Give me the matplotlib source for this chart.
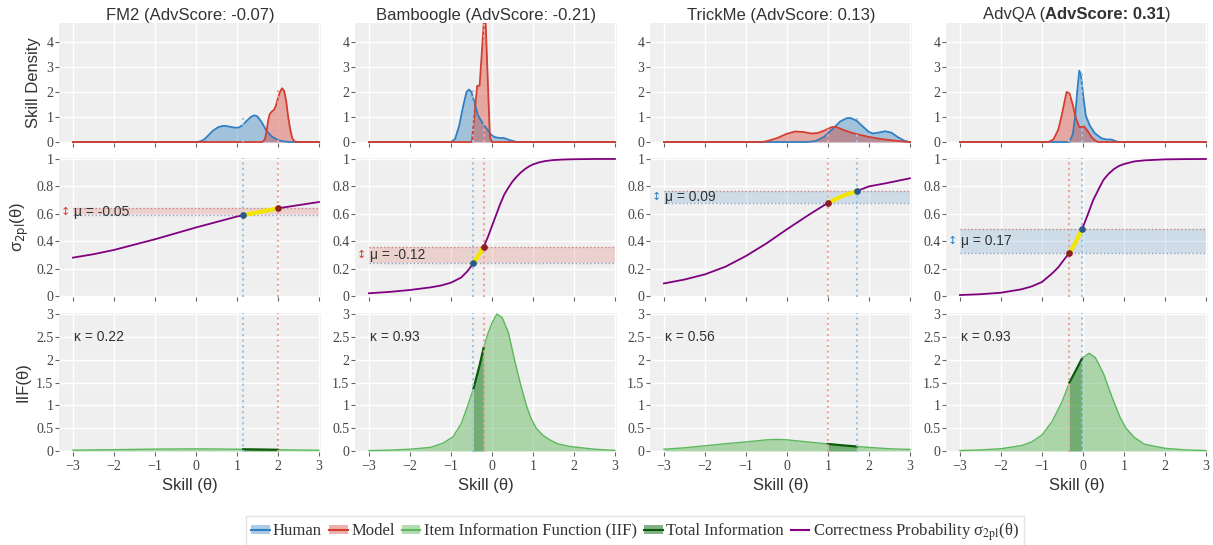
import numpy as np
import matplotlib
matplotlib.use("Agg")
import matplotlib.pyplot as plt
from matplotlib.patches import Patch
from matplotlib.lines import Line2D
from matplotlib.offsetbox import TextArea, HPacker, AnchoredOffsetbox
from matplotlib.ticker import FuncFormatter
from matplotlib.font_manager import FontProperties

# ---------------- data ----------------
datasets = ["FM2", "Bamboogle", "TrickMe", "AdvQA"]
adv_scores = [-0.07, -0.21, 0.13, 0.31]
mu_values = [-0.05, -0.12, 0.09, 0.17]
kappa_values = [0.22, 0.93, 0.56, 0.93]
human_means = [1.15, -0.45, 1.7, -0.02]
model_means = [2.0, -0.2, 1.0, -0.33]
human_probs = [0.589, 0.24, 0.765, 0.489]
model_probs = [0.64, 0.36, 0.68, 0.314]

# skill densities (theta, density)
fm2_human_theta = [-3, 0.0, 0.1, 0.2, 0.3, 0.42, 0.55, 0.68, 0.8, 0.92, 1.03, 1.13, 1.23, 1.33, 1.42, 1.5, 1.6, 1.72, 1.85, 2.0, 2.15, 2.3, 3]
fm2_human_dens = [0, 0, 0.02, 0.1, 0.26, 0.46, 0.6, 0.65, 0.62, 0.58, 0.57, 0.66, 0.83, 0.99, 1.07, 1.02, 0.8, 0.45, 0.22, 0.08, 0.02, 0, 0]
fm2_model_theta = [-3, 1.62, 1.68, 1.72, 1.76, 1.8, 1.85, 1.9, 1.95, 2.0, 2.05, 2.1, 2.15, 2.2, 2.25, 2.3, 2.35, 2.4, 2.45, 3]
fm2_model_dens = [0, 0, 0.1, 0.4, 0.85, 1.12, 1.22, 1.28, 1.45, 1.75, 2.0, 2.15, 2.05, 1.65, 1.0, 0.5, 0.15, 0.03, 0, 0]

bam_human_theta = [-3, -1.0, -0.9, -0.8, -0.7, -0.62, -0.56, -0.5, -0.42, -0.34, -0.22, -0.1, -0.02, 0.06, 0.18, 0.29, 0.41, 0.53, 0.62, 3]
bam_human_dens = [0, 0, 0.12, 0.65, 1.45, 2.0, 2.1, 2.0, 1.53, 1.07, 0.73, 0.47, 0.29, 0.2, 0.16, 0.16, 0.09, 0.03, 0, 0]
bam_model_theta = [-3, -0.49, -0.36, -0.3, -0.17, -0.05, 0.0, 3]
bam_model_dens = [0, 0, 2.25, 2.25, 5.5, 0.2, 0, 0]

tri_human_theta = [-3, 0.5, 0.7, 0.9, 1.1, 1.3, 1.45, 1.55, 1.7, 1.85, 2.0, 2.1, 2.25, 2.4, 2.55, 2.7, 2.85, 2.95, 3]
tri_human_dens = [0, 0, 0.04, 0.2, 0.5, 0.82, 0.95, 0.96, 0.85, 0.62, 0.4, 0.34, 0.38, 0.43, 0.37, 0.2, 0.06, 0.01, 0]
tri_model_theta = [-3, -0.6, -0.5, -0.25, 0.0, 0.2, 0.4, 0.6, 0.75, 0.9, 1.1, 1.2, 1.4, 1.6, 1.8, 2.0, 2.3, 2.6, 2.9, 3]
tri_model_dens = [0, 0, 0.03, 0.15, 0.33, 0.42, 0.4, 0.34, 0.36, 0.45, 0.6, 0.6, 0.47, 0.36, 0.28, 0.2, 0.12, 0.06, 0.01, 0]

adv_human_theta = [-3, -0.33, -0.25, -0.19, -0.14, -0.09, -0.05, 0.01, 0.07, 0.17, 0.29, 0.45, 0.57, 0.69, 0.82, 0.9, 3]
adv_human_dens = [0, 0, 0.3, 1.0, 2.0, 2.85, 2.7, 1.8, 1.05, 0.65, 0.35, 0.15, 0.1, 0.1, 0.02, 0, 0]
adv_model_theta = [-3, -0.84, -0.72, -0.6, -0.52, -0.45, -0.4, -0.33, -0.25, -0.17, -0.09, -0.03, 0.03, 0.11, 0.21, 0.29, 0.37, 3]
adv_model_dens = [0, 0, 0.1, 0.5, 1.05, 1.6, 2.0, 1.95, 1.5, 0.95, 0.6, 0.6, 0.62, 0.45, 0.2, 0.07, 0, 0]

# correctness probability curves
fm2_sig_theta = [-3, -2.5, -2, -1.5, -1, -0.5, 0, 0.5, 1, 1.15, 1.5, 2, 2.5, 3]
fm2_sig_p = [0.28, 0.305, 0.336, 0.375, 0.414, 0.457, 0.50, 0.54, 0.58, 0.589, 0.61, 0.64, 0.663, 0.686]
bam_sig_theta = [-3, -2.5, -2, -1.5, -1.25, -1, -0.75, -0.6, -0.45, -0.3, -0.2, -0.1, 0, 0.1, 0.2, 0.3, 0.4, 0.5, 0.6, 0.7, 0.8, 0.9, 1, 1.15, 1.3, 1.5, 1.75, 2, 2.5, 3]
bam_sig_p = [0.02, 0.03, 0.044, 0.063, 0.076, 0.097, 0.135, 0.18, 0.24, 0.31, 0.36, 0.43, 0.51, 0.59, 0.67, 0.74, 0.79, 0.835, 0.87, 0.9, 0.925, 0.945, 0.96, 0.975, 0.985, 0.992, 0.996, 0.998, 1.0, 1.0]
tri_sig_theta = [-3, -2.5, -2, -1.5, -1, -0.5, 0, 0.5, 1, 1.35, 1.7, 2, 2.4, 3]
tri_sig_p = [0.092, 0.12, 0.158, 0.214, 0.292, 0.384, 0.487, 0.586, 0.68, 0.73, 0.765, 0.80, 0.822, 0.859]
adv_sig_theta = [-3, -2.5, -2, -1.5, -1.25, -1, -0.75, -0.6, -0.45, -0.33, -0.2, -0.02, 0.1, 0.25, 0.4, 0.5, 0.62, 0.75, 0.87, 1, 1.25, 1.5, 2, 2.5, 3]
adv_sig_p = [0.007, 0.013, 0.024, 0.049, 0.07, 0.102, 0.165, 0.21, 0.27, 0.314, 0.38, 0.489, 0.58, 0.70, 0.79, 0.847, 0.89, 0.925, 0.948, 0.963, 0.982, 0.99, 0.997, 0.999, 1.0]

# item information functions
fm2_iif_theta = [-3, -2, -1, 0, 1, 1.15, 1.5, 2, 3]
fm2_iif = [0.02, 0.03, 0.042, 0.048, 0.04, 0.038, 0.034, 0.028, 0.018]
bam_iif_theta = [-3, -2.5, -2, -1.5, -1.2, -0.95, -0.75, -0.6, -0.45, -0.3, -0.2, -0.1, 0, 0.12, 0.25, 0.4, 0.55, 0.7, 0.84, 0.95, 1.08, 1.25, 1.4, 1.6, 1.9, 2.5, 3]
bam_iif = [0.01, 0.02, 0.04, 0.08, 0.17, 0.31, 0.6, 0.97, 1.37, 1.88, 2.27, 2.57, 2.8, 3.0, 2.92, 2.6, 2.0, 1.45, 1.0, 0.72, 0.5, 0.34, 0.25, 0.16, 0.1, 0.04, 0.015]
tri_iif_theta = [-3, -2.5, -2, -1.5, -1, -0.5, -0.25, 0, 0.5, 1, 1.35, 1.7, 2, 2.5, 3]
tri_iif = [0.04, 0.07, 0.115, 0.16, 0.2, 0.245, 0.255, 0.245, 0.2, 0.155, 0.125, 0.1, 0.08, 0.05, 0.035]
adv_iif_theta = [-3, -2.5, -2, -1.5, -1.25, -1, -0.75, -0.5, -0.33, -0.2, -0.02, 0.15, 0.3, 0.5, 0.7, 0.9, 1.05, 1.25, 1.5, 2, 2.5, 3]
adv_iif = [0.01, 0.025, 0.05, 0.12, 0.2, 0.35, 0.65, 1.1, 1.5, 1.72, 2.03, 2.14, 2.05, 1.7, 1.2, 0.75, 0.5, 0.3, 0.15, 0.06, 0.025, 0.01]

human_density = [(fm2_human_theta, fm2_human_dens), (bam_human_theta, bam_human_dens),
                 (tri_human_theta, tri_human_dens), (adv_human_theta, adv_human_dens)]
model_density = [(fm2_model_theta, fm2_model_dens), (bam_model_theta, bam_model_dens),
                 (tri_model_theta, tri_model_dens), (adv_model_theta, adv_model_dens)]
sigma_curves = [(fm2_sig_theta, fm2_sig_p), (bam_sig_theta, bam_sig_p),
                (tri_sig_theta, tri_sig_p), (adv_sig_theta, adv_sig_p)]
iif_curves = [(fm2_iif_theta, fm2_iif), (bam_iif_theta, bam_iif),
              (tri_iif_theta, tri_iif), (adv_iif_theta, adv_iif)]

# ---------------- style ----------------
BG = "#efefef"
HUMAN = "#2f7fc1"
MODEL = "#d43d2f"
HUMAN_LIGHT = "#9cc3e0"
MODEL_LIGHT = "#eea39b"
HUMAN_DOT = "#2a5a8c"
MODEL_DOT = "#8c2020"
GREEN = "#4daf4a"
GREEN_LINE = "#5cb85c"
DARK_GREEN = "#2e7d32"
DARK_GREEN_LINE = "#0b5a0b"
PURPLE = "#800080"
YELLOW = "#f2e600"
TXT = "#333333"
SANS = "Liberation Sans"
SERIF = "Liberation Serif"

fig = plt.figure(figsize=(12.13, 5.45), dpi=100)

col_left = [59, 355, 650, 946]
col_w = 262
rows = [(23, 142.5), (157.6, 296.7), (313.1, 451.5)]
W, H = 1213.0, 545.0

fmt = FuncFormatter(lambda v, p: ("%g" % v).replace("-", "\u2212"))


def style_axes(ax, yticks, show_x):
    ax.set_facecolor(BG)
    for s in ax.spines.values():
        s.set_visible(False)
    ax.set_xlim(-3.34, 3.05)
    ax.set_xticks([-3, -2, -1, 0, 1, 2, 3])
    ax.set_yticks(yticks)
    ax.xaxis.set_major_formatter(fmt)
    ax.yaxis.set_major_formatter(fmt)
    ax.grid(True, color="white", lw=1.0)
    ax.set_axisbelow(True)
    ax.tick_params(axis="both", direction="out", length=3, width=0.8,
                   color="#666666", labelsize=10, labelcolor="#444444")
    ax.tick_params(axis="y", pad=1)
    ax.tick_params(axis="x", pad=3)
    if not show_x:
        ax.tick_params(axis="x", labelbottom=False)
    for lab in ax.get_xticklabels() + ax.get_yticklabels():
        lab.set_family(SERIF)


for i in range(4):
    x0 = col_left[i] / W
    axes = []
    for r, (top, bot) in enumerate(rows):
        ax = fig.add_axes([x0, 1 - bot / H, col_w / W, (bot - top) / H])
        axes.append(ax)
    ax1, ax2, ax3 = axes
    hm, mm = human_means[i], model_means[i]
    hp, mp = human_probs[i], model_probs[i]
    lo_m, hi_m = min(hm, mm), max(hm, mm)

    # ---- row 1: skill densities ----
    th_h, d_h = human_density[i]
    th_m, d_m = model_density[i]
    ax1.fill_between(th_h, 0, d_h, color=HUMAN, alpha=0.4, lw=0)
    ax1.plot(th_h, d_h, color=HUMAN, lw=1.3)
    ax1.fill_between(th_m, 0, d_m, color=MODEL, alpha=0.4, lw=0)
    ax1.plot(th_m, d_m, color=MODEL, lw=1.3)
    ax1.vlines(hm, 0, max(d_h), color=HUMAN_LIGHT, ls=":", lw=1.5)
    ax1.vlines(mm, 0, max(d_m), color=MODEL_LIGHT, ls=":", lw=1.5)
    style_axes(ax1, [0, 1, 2, 3, 4], False)
    ax1.set_ylim(-0.02, 4.76)

    # ---- row 2: correctness probability ----
    th_s, p_s = sigma_curves[i]
    band_col = MODEL if mu_values[i] < 0 else HUMAN
    plo, phi = min(hp, mp), max(hp, mp)
    ax2.fill_between([-3, 3], plo, phi, color=band_col, alpha=0.17, lw=0)
    ax2.hlines(phi, -3, 3, color="#c98888", ls=":", lw=1.0)
    ax2.hlines(plo, -3, 3, color="#88a3c4", ls=":", lw=1.0)
    ax2.axvline(hm, color=HUMAN_LIGHT, ls=":", lw=1.5)
    ax2.axvline(mm, color=MODEL_LIGHT, ls=":", lw=1.5)
    ax2.plot(th_s, p_s, color=PURPLE, lw=1.3, zorder=3)
    seg_x = [lo_m] + [t for t in th_s if lo_m < t < hi_m] + [hi_m]
    seg_y = [hp if lo_m == hm else mp] + [p for t, p in zip(th_s, p_s) if lo_m < t < hi_m] + [mp if hi_m == mm else hp]
    ax2.plot(seg_x, seg_y, color=YELLOW, lw=3, zorder=4, solid_capstyle="butt")
    ax2.plot([hm], [hp], "o", color=HUMAN_DOT, ms=3.8, zorder=5)
    ax2.plot([mm], [mp], "o", color=MODEL_DOT, ms=3.8, zorder=5)
    mid = (plo + phi) / 2
    ax2.text(-3.19, mid, "\u2195", color=band_col, fontsize=8, family="DejaVu Sans",
             ha="center", va="center")
    ax2.text(-2.97, mid, "\u03bc = %.2f" % mu_values[i], color=TXT, fontsize=10,
             family=SANS, ha="left", va="center")
    style_axes(ax2, [0, 0.2, 0.4, 0.6, 0.8, 1.0], False)
    ax2.set_ylim(-0.005, 1.01)

    # ---- row 3: item information ----
    th_i, v_i = iif_curves[i]
    ax3.fill_between(th_i, 0, v_i, color=GREEN, alpha=0.42, lw=0)
    ax3.plot(th_i, v_i, color=GREEN_LINE, lw=1.0)
    sx = [t for t in th_i if lo_m <= t <= hi_m]
    sy = [v for t, v in zip(th_i, v_i) if lo_m <= t <= hi_m]
    ax3.fill_between(sx, 0, sy, color=DARK_GREEN, alpha=0.45, lw=0)
    ax3.plot(sx, sy, color=DARK_GREEN_LINE, lw=1.6)
    ax3.axvline(hm, color=HUMAN_LIGHT, ls=":", lw=1.5)
    ax3.axvline(mm, color=MODEL_LIGHT, ls=":", lw=1.5)
    ax3.text(-2.97, 2.5, "\u03ba = %.2f" % kappa_values[i], color=TXT, fontsize=10,
             family=SANS, ha="left", va="center")
    style_axes(ax3, [0, 0.5, 1, 1.5, 2, 2.5, 3], True)
    ax3.set_ylim(-0.01, 3.02)
    ax3.set_xlabel("Skill (\u03b8)", family=SANS, fontsize=12, color=TXT, labelpad=4)

    # ---- titles ----
    if i == 3:
        tp = dict(family=SANS, size=12, color=TXT)
        tb = dict(family=SANS, size=12, color=TXT, weight="bold")
        box = HPacker(children=[TextArea("%s (" % datasets[i], textprops=tp),
                                TextArea("AdvScore: %.2f" % adv_scores[i], textprops=tb),
                                TextArea(")", textprops=tp)],
                      align="baseline", pad=0, sep=0)
        ab = AnchoredOffsetbox(loc="lower center", child=box, pad=0, borderpad=0.05,
                               frameon=False, bbox_to_anchor=(0.5, 1.0),
                               bbox_transform=ax1.transAxes)
        ax1.add_artist(ab)
    else:
        ax1.set_title("%s (AdvScore: %.2f)" % (datasets[i], adv_scores[i]),
                      family=SANS, fontsize=12, color=TXT, pad=2)

    if i == 0:
        ax1.set_ylabel("Skill Density", family=SANS, fontsize=12, color=TXT)
        ax2.set_ylabel("\u03c3$_{\\mathrm{2pl}}$(\u03b8)", family=SANS, fontsize=12, color=TXT)
        ax3.set_ylabel("IIF(\u03b8)", family=SANS, fontsize=12, color=TXT)

# ---------------- legend ----------------
handles = [
    (Patch(facecolor=HUMAN, alpha=0.4, edgecolor="none"), Line2D([], [], color=HUMAN, lw=1.5)),
    (Patch(facecolor=MODEL, alpha=0.4, edgecolor="none"), Line2D([], [], color=MODEL, lw=1.5)),
    (Patch(facecolor=GREEN, alpha=0.42, edgecolor="none"), Line2D([], [], color=GREEN_LINE, lw=1.5)),
    (Patch(facecolor=DARK_GREEN, alpha=0.6, edgecolor="none"), Line2D([], [], color=DARK_GREEN_LINE, lw=1.5)),
    Line2D([], [], color=PURPLE, lw=1.5),
]
labels = ["Human", "Model", "Item Information Function (IIF)", "Total Information",
          "Correctness Probability \u03c3$_{\\mathrm{2pl}}$(\u03b8)"]
lprop = FontProperties(family=SERIF, size=12, math_fontfamily="stix")
leg = fig.legend(handles, labels, loc="center", bbox_to_anchor=(0.5235, 0.024), ncol=5,
                 prop=lprop, frameon=True, fancybox=False, edgecolor="#dddddd",
                 handlelength=1.1, handleheight=0.45, handletextpad=0.2,
                 columnspacing=0.45, borderpad=0.3, borderaxespad=0)
for t in leg.get_texts():
    t.set_color(TXT)

fig.savefig("out.png", dpi=100)
